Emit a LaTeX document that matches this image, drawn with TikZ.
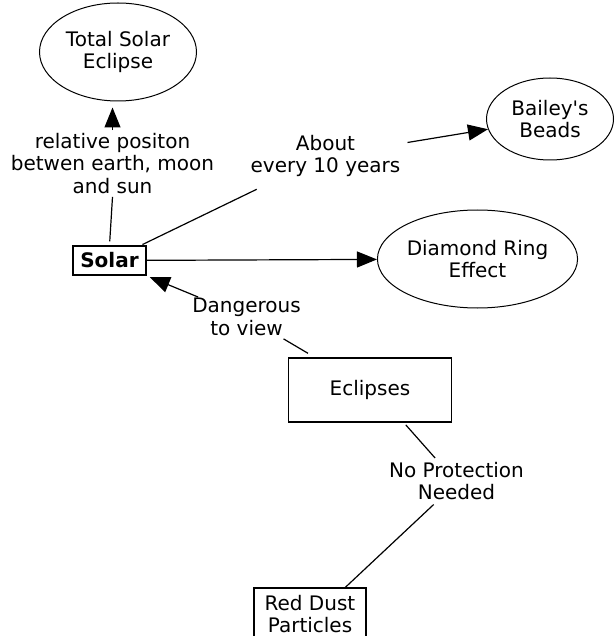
\documentclass[tikz,border=0pt]{standalone}
\usepackage{fontspec}
\setmainfont{DejaVu Sans}
\usetikzlibrary{arrows.meta,shapes.geometric}
\begin{document}
\begin{tikzpicture}[x=1pt,y=-1pt,
  every node/.style={font=\fontsize{20pt}{22.5pt}\selectfont, align=center, text=black},
  ell/.style={draw, ellipse, line width=1pt, inner sep=0pt},
  box/.style={draw, rectangle, line width=1.2pt, inner sep=0pt},
  lab/.style={inner sep=3pt},
  con/.style={line width=1.2pt},
  arr/.style={con, -{Triangle[length=20pt,width=16pt]}}]
\clip (0,0) rectangle (614,636);
% concepts
\node[ell, minimum width=157pt, minimum height=98pt] (tse) at (118,52) {Total Solar\\Eclipse};
\node[ell, minimum width=127pt, minimum height=82pt] (bb) at (550,119) {Bailey\textquotesingle s\\Beads};
\node[ell, minimum width=185pt, minimum height=98pt] (dre) at (477.5,259) {Diamond Ring\\Effect};
\node[box, minimum width=73pt, minimum height=29pt, font=\fontsize{20pt}{22.5pt}\selectfont\bfseries] (solar) at (109.5,260.5) {Solar};
\node[box, minimum width=163pt, minimum height=64pt] (ecl) at (370,390) {Eclipses};
\node[box, minimum width=112pt, minimum height=52pt] (rdp) at (310,614) {Red Dust\\Particles};
% link labels
\node[lab] (lab1) at (112.5,163.5) {relative positon\\betwen earth, moon\\and sun};
\node[lab] (lab2) at (325.5,156) {About\\every 10 years};
\node[lab] (lab3) at (246.5,317) {Dangerous\\to view};
\node[lab] (lab4) at (456.5,481) {No Protection\\Needed};
% connectors
\draw[arr, shorten >=6pt] (lab1.north) -- (lab1.north |- tse.south);
\draw[con, shorten >=4pt] (lab1.south) -- (solar.north);
\draw[con, shorten <=2pt, shorten >=21pt] (solar) -- (lab2);
\draw[arr, shorten <=4pt] (lab2) -- (bb);
\draw[arr] (solar) -- (dre);
\draw[arr, shorten <=-5pt, shorten >=4pt] (lab3) -- (solar);
\draw[con, shorten >=8pt] (lab3) -- (ecl);
\draw[con, shorten <=3pt, shorten >=1pt] (ecl.-44) -- (lab4.133);
\draw[con, shorten <=2pt] (lab4.-134) -- (rdp.37);
\end{tikzpicture}
\end{document}
